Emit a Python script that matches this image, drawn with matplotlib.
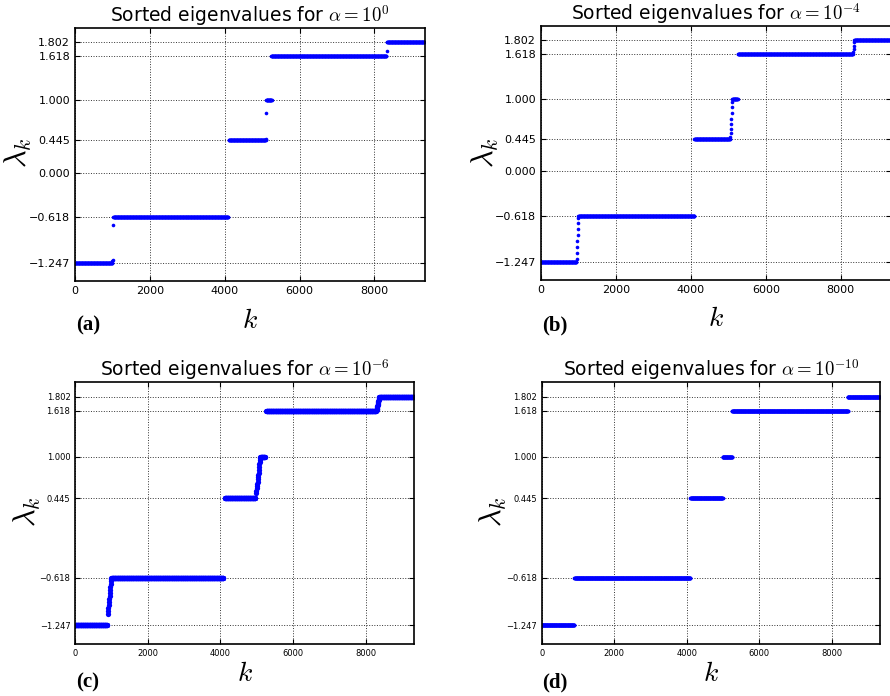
import numpy as np
import matplotlib
matplotlib.use("Agg")
import matplotlib.pyplot as plt
from matplotlib.ticker import FuncFormatter

# plateau levels (sorted eigenvalues cluster around these)
levels = [-1.247, -0.618, 0.445, 1.000, 1.618, 1.802]
n_total = 9340

# (a) alpha = 10^0
a_starts = [0, 1025, 4110, 5110, 5245, 8340]
a_ends = [995, 4095, 5095, 5255, 8320, 9340]
a_extra_k = [1000, 1005, 1010, 5100, 5115, 8330]
a_extra_v = [-1.225, -1.21, -0.72, 0.46, 0.83, 1.686]

# (b) alpha = 10^-4
b_starts = [0, 1000, 4095, 5110, 5255, 8365]
b_ends = [945, 4100, 5045, 5250, 8325, 9340]
b_extra_k = [950, 958, 965, 972, 978, 984, 990, 995,
             5050, 5058, 5065, 5072, 5080, 5088, 5095, 5102,
             8332, 8340, 8348, 8356]
b_extra_v = [-1.21, -1.13, -1.04, -0.96, -0.88, -0.80, -0.72, -0.65,
             0.47, 0.52, 0.58, 0.65, 0.72, 0.80, 0.88, 0.95,
             1.64, 1.68, 1.73, 1.78]

# (c) alpha = 10^-6
c_starts = [0, 995, 4115, 5100, 5260, 8380]
c_ends = [885, 4090, 4970, 5235, 8290, 9340]
c_extra_k = [895, 903, 911, 919, 927, 935, 943, 951, 959, 967, 975, 983, 990,
             4985, 4992, 4999, 5006, 5013, 5020, 5027, 5034, 5041, 5048,
             5055, 5062, 5069, 5076, 5083, 5090,
             8300, 8305, 8310, 8315, 8320, 8325, 8330, 8335, 8340, 8345,
             8350, 8355, 8360, 8365, 8370]
c_extra_v = [-1.10, -1.06, -1.02, -0.98, -0.94, -0.90, -0.86, -0.82, -0.78,
             -0.74, -0.70, -0.66, -0.63,
             0.52, 0.55, 0.58, 0.61, 0.64, 0.67, 0.70, 0.73, 0.76, 0.79,
             0.83, 0.86, 0.90, 0.93, 0.96, 0.98,
             1.625, 1.635, 1.645, 1.655, 1.665, 1.675, 1.69, 1.70, 1.715,
             1.73, 1.745, 1.76, 1.775, 1.785, 1.795]

# (d) alpha = 10^-10
d_starts = [0, 905, 4105, 4990, 5255, 8440]
d_ends = [900, 4100, 5000, 5255, 8455, 9340]
d_extra_k = []
d_extra_v = []

titles = [r"Sorted eigenvalues for $\alpha=10^{0}$",
          r"Sorted eigenvalues for $\alpha=10^{-4}$",
          r"Sorted eigenvalues for $\alpha=10^{-6}$",
          r"Sorted eigenvalues for $\alpha=10^{-10}$"]
panel_tags = ["(a)", "(b)", "(c)", "(d)"]
ticks_with_zero = [-1.247, -0.618, 0.0, 0.445, 1.0, 1.618, 1.802]
ticks_no_zero = [-1.247, -0.618, 0.445, 1.0, 1.618, 1.802]

plt.rcParams['mathtext.fontset'] = 'cm'
plt.rcParams['xtick.direction'] = 'in'
plt.rcParams['ytick.direction'] = 'in'
plt.rcParams['xtick.top'] = True
plt.rcParams['ytick.right'] = True

W, H = 890, 696
fig = plt.figure(figsize=(W / 100, H / 100), dpi=100)


def build(starts, ends, ek, ev, step=8):
    ks, vs = [], []
    for lv, s, e in zip(levels, starts, ends):
        k = np.arange(s, e, step)
        ks.append(k)
        vs.append(np.full(len(k), lv))
    ks.append(np.array(ek, dtype=float))
    vs.append(np.array(ev, dtype=float))
    return np.concatenate(ks), np.concatenate(vs)


def fmt(val, pos):
    return ('%.3f' % val).replace('-', '\u2212')


panels = [
    (a_starts, a_ends, a_extra_k, a_extra_v),
    (b_starts, b_ends, b_extra_k, b_extra_v),
    (c_starts, c_ends, c_extra_k, c_extra_v),
    (d_starts, d_ends, d_extra_k, d_extra_v),
]
# pixel boxes: left, top, right, bottom
boxes = [(75, 28, 424.5, 281), (541, 26, 891, 280),
         (75.3, 382, 414.3, 644), (541.7, 382, 880.2, 644)]
tick_sizes = [8, 8, 6, 6]
msizes = [2.6, 2.6, 3.8, 2.7]
ylab_pos = [(18, 153), (485, 153), (27, 512), (493, 512)]
klab_pos = [(250, 320), (716, 318), (245, 673), (711, 673)]
tag_pos = [(76, 325), (542, 325), (76, 682), (542, 682)]

for i in range(4):
    l, t, r, b = boxes[i]
    ax = fig.add_axes([l / W, 1 - b / H, (r - l) / W, (b - t) / H])
    k, v = build(*panels[i])
    ax.plot(k, v, 'o', color='#0000ff', markersize=msizes[i], markeredgewidth=0)
    ax.set_xlim(0, n_total)
    ax.set_ylim(-1.5, 2.0)
    ax.set_xticks([0, 2000, 4000, 6000, 8000])
    ax.set_yticks(ticks_with_zero if i < 2 else ticks_no_zero)
    ax.yaxis.set_major_formatter(FuncFormatter(fmt))
    ax.tick_params(labelsize=tick_sizes[i], length=3.5, width=0.8)
    ax.grid(True, linestyle=':', color='k', linewidth=0.7, alpha=0.8)
    for sp in ax.spines.values():
        sp.set_linewidth(1.2)
    ax.set_title(titles[i], fontsize=13.5, pad=3)
    fig.text(ylab_pos[i][0] / W, 1 - ylab_pos[i][1] / H, r"$\lambda_k$",
             fontsize=22, rotation=90, ha='center', va='center')
    fig.text(klab_pos[i][0] / W, 1 - klab_pos[i][1] / H, r"$k$",
             fontsize=20, ha='center', va='center')
    fig.text(tag_pos[i][0] / W, 1 - tag_pos[i][1] / H, panel_tags[i],
             fontsize=15, fontweight='bold', family='Liberation Serif',
             ha='left', va='center')

plt.savefig('out.png', dpi=100)
